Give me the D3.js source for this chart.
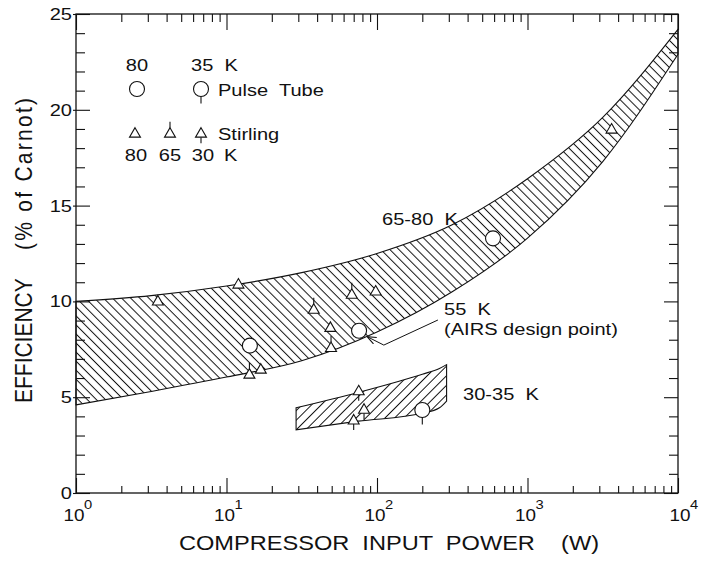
<!DOCTYPE html>
<html>
<head>
<meta charset="utf-8">
<script src="https://cdn.jsdelivr.net/npm/d3@7"></script>
<style>
  body { margin: 0; background: #fff; }
  text { font-family: "Liberation Sans", Arial, Helvetica, sans-serif; fill: #111; white-space: pre; }
</style>
</head>
<body>
<div id="chart"></div>
<script>
const width = 701,
      height = 562;
const SX = 1.18; // the scan is stretched sideways, so is the lettering

// 65-80 K band (upper hatched region)
const bandPower  = [1, 3.16, 10, 31.6, 100, 316, 1000, 3162, 10000];
const bandTop    = [10.0, 10.3, 10.8, 11.5, 12.5, 14.0, 16.4, 19.6, 24.2];
const bandBottom = [4.6, 5.3, 6.05, 6.9, 8.4, 10.5, 13.3, 17.3, 22.9];

// 30-35 K band (lower hatched region)
const lowPower  = [29, 75, 200, 260, 290];
const lowTop    = [4.45, 5.25, 6.2, 6.5, 6.7];
const lowBottom = [3.3, 3.75, 4.16, 4.45, 4.8];

// Stirling coolers (triangles)
const stirlingPower = [3.5, 12, 14.2, 16.9, 38, 49, 49.5, 68, 98, 3620, 75.6, 82, 70];
const stirlingEff   = [9.98, 10.86, 6.16, 6.42, 9.55, 8.6, 7.55, 10.33, 10.5, 18.95, 5.29, 4.33, 3.77];
const stirlingTemp  = [80, 80, 65, 80, 65, 80, 65, 65, 80, 80, 30, 30, 30];

// pulse tube coolers (circles)
const pulsePower = [14.3, 76, 590, 200];
const pulseEff   = [7.69, 8.47, 13.29, 4.33];
const pulseTemp  = [80, 55, 80, 35];

// tick labels
const xDecades = [1, 10, 100, 1000, 10000];
const xExponents = ["0", "1", "2", "3", "4"];
const yMajor = [0, 5, 10, 15, 20, 25];

// AIRS arrow (power, efficiency)
const arrowPts = [[254, 9.03], [111, 7.72], [87, 8.14]];

var svg = d3.select('#chart').append('svg')
  .attr('width', width)
  .attr('height', height);

svg.append('rect').attr('width', width).attr('height', height).attr('fill', '#fff');

const x = d3.scaleLog().domain([1, 1e4]).range([76, 678]);
const y = d3.scaleLinear().domain([0, 25]).range([493, 14]);

const xMinor = xDecades.slice(0, 4).flatMap(d => d3.range(2, 10).map(k => k * d));
const yMinor = d3.range(0, 26).filter(v => v % 5 !== 0);

function label(g, px, py, str, size, anchor) {
  return g.append('text')
    .attr('transform', `translate(${px},${py}) scale(${SX},1)`)
    .attr('font-size', size)
    .attr('text-anchor', anchor || 'start')
    .text(str);
}

// hatch patterns
var defs = svg.append('defs');
function hatch(id, gap, angle) {
  defs.append('pattern')
    .attr('id', id)
    .attr('patternUnits', 'userSpaceOnUse')
    .attr('width', gap).attr('height', gap)
    .attr('patternTransform', `rotate(${angle})`)
    .append('line')
      .attr('x1', gap / 2).attr('y1', 0)
      .attr('x2', gap / 2).attr('y2', gap)
      .attr('stroke', '#111').attr('stroke-width', 1);
}
hatch('hatchUp', 6.4, -45);
hatch('hatchLow', 6.8, 45);

defs.append('marker')
  .attr('id', 'arrowHead')
  .attr('viewBox', '0 0 10 10')
  .attr('refX', 9).attr('refY', 5)
  .attr('markerWidth', 9).attr('markerHeight', 9)
  .attr('markerUnits', 'userSpaceOnUse')
  .attr('orient', 'auto')
  .append('path').attr('d', 'M0,1 L10,5 L0,9').attr('fill', 'none').attr('stroke', '#111').attr('stroke-width', 1.2);

var g = svg.append('g');

// bands
const bandArea = d3.area()
  .curve(d3.curveMonotoneX)
  .x(d => x(d[0]))
  .y0(d => y(d[2]))
  .y1(d => y(d[1]));

g.append('path')
  .datum(bandPower.map((p, i) => [p, bandTop[i], bandBottom[i]]))
  .attr('d', bandArea)
  .attr('fill', 'url(#hatchUp)')
  .attr('stroke', '#111')
  .attr('stroke-width', 1.1);

g.append('path')
  .datum(lowPower.map((p, i) => [p, lowTop[i], lowBottom[i]]))
  .attr('d', bandArea)
  .attr('fill', 'url(#hatchLow)')
  .attr('stroke', '#111')
  .attr('stroke-width', 1.1);

// markers
const triSize = 52;
const triPath = d3.symbol(d3.symbolTriangle, triSize)();
const triSide = Math.sqrt(4 * triSize / Math.sqrt(3));
const triTop = -triSide * Math.sqrt(3) / 3, triBot = triSide * Math.sqrt(3) / 6;
const circR = 7.5, stem = 6;

function drawTriangle(sel, px, py, temp) {
  const t = sel.append('g').attr('transform', `translate(${px},${py})`);
  if (temp === 65) t.append('line').attr('x1', 0).attr('x2', 0).attr('y1', triTop).attr('y2', triTop - stem);
  if (temp === 30) t.append('line').attr('x1', 0).attr('x2', 0).attr('y1', triBot).attr('y2', triBot + stem);
  t.append('path').attr('d', triPath);
  t.selectAll('*').attr('stroke', '#111').attr('stroke-width', 1.1);
  t.select('path').attr('fill', '#fff');
}
function drawCircle(sel, px, py, temp) {
  const c = sel.append('g').attr('transform', `translate(${px},${py})`);
  if (temp === 35) c.append('line').attr('x1', 0).attr('x2', 0).attr('y1', circR).attr('y2', circR + stem + 1);
  c.append('circle').attr('r', circR);
  c.selectAll('*').attr('stroke', '#111').attr('stroke-width', 1.1);
  c.select('circle').attr('fill', '#fff');
}

var markers = g.append('g');
stirlingPower.forEach((p, i) => drawTriangle(markers, x(p), y(stirlingEff[i]), stirlingTemp[i]));
pulsePower.forEach((p, i) => drawCircle(markers, x(p), y(pulseEff[i]), pulseTemp[i]));

// AIRS arrow
g.append('path')
  .attr('d', d3.line()(arrowPts.map(d => [x(d[0]), y(d[1])])))
  .attr('fill', 'none')
  .attr('stroke', '#111')
  .attr('stroke-width', 1)
  .attr('marker-end', 'url(#arrowHead)');

// annotations
label(g, x(108), y(13.99), '65-80  K', 17);
label(g, x(279), y(9.29), '55  K', 17);
label(g, x(279), y(8.25), '(AIRS design point)', 17);
label(g, x(373), y(4.85), '30-35  K', 17);

// legend
var legend = svg.append('g');
label(legend, 137, 71, '80', 17, 'middle');
label(legend, 191, 71, '35  K', 17);
drawCircle(legend, 137, 89, 80);
drawCircle(legend, 201, 89, 35);
label(legend, 218, 96, 'Pulse  Tube', 17);
drawTriangle(legend, 135, 134, 80);
drawTriangle(legend, 170, 134, 65);
drawTriangle(legend, 201, 134, 30);
label(legend, 218, 140, 'Stirling', 17);
label(legend, 136, 161, '80', 17, 'middle');
label(legend, 170, 161, '65', 17, 'middle');
label(legend, 203, 161, '30', 17, 'middle');
label(legend, 224, 161, 'K', 17);

// axes: tick marks point inwards
var axes = svg.append('g').attr('stroke-width', 1.1);
function tickAxis(axis, tx, ty) {
  axes.append('g')
    .attr('transform', `translate(${tx},${ty})`)
    .call(axis.tickFormat(''))
    .call(a => a.select('.domain').remove())
    .call(a => a.selectAll('line').attr('stroke', '#111'));
}
tickAxis(d3.axisBottom(x).tickValues(xDecades).tickSize(-15), 0, y(0));
tickAxis(d3.axisBottom(x).tickValues(xMinor).tickSize(-7), 0, y(0));
tickAxis(d3.axisTop(x).tickValues(xDecades).tickSize(-16), 0, y(25));
tickAxis(d3.axisTop(x).tickValues(xMinor).tickSize(-8), 0, y(25));
tickAxis(d3.axisLeft(y).tickValues(yMajor).tickSize(-14), x(1), 0);
tickAxis(d3.axisLeft(y).tickValues(yMajor).tickSize(3), x(1), 0);
tickAxis(d3.axisLeft(y).tickValues(yMinor).tickSize(-9), x(1), 0);
tickAxis(d3.axisRight(y).tickValues(yMajor).tickSize(-14), x(1e4), 0);
tickAxis(d3.axisRight(y).tickValues(yMinor).tickSize(-9), x(1e4), 0);

axes.append('rect')
  .attr('x', x(1)).attr('y', y(25))
  .attr('width', x(1e4) - x(1)).attr('height', y(0) - y(25))
  .attr('fill', 'none').attr('stroke', '#111').attr('stroke-width', 1.3);

// tick labels
yMajor.forEach(v => label(axes, 72, y(v) + 6, String(v), 17, 'end'));
xDecades.forEach((d, i) => {
  const cx = x(d) - 2 + (i === 4 ? 4 : 0);
  label(axes, cx, 521, '10', 16, 'middle');
  label(axes, cx + 10, 509, xExponents[i], 12.5, 'start');
});

// axis titles
label(svg, 389, 550, 'COMPRESSOR  INPUT  POWER    (W)', 20, 'middle');

svg.append('text')
  .attr('transform', `translate(32,403) scale(${SX},1) rotate(-90)`)
  .attr('font-size', 21)
  .text('EFFICIENCY');
svg.append('text')
  .attr('transform', `translate(32,250) scale(${SX},1) rotate(-90)`)
  .attr('font-size', 21)
  .attr('textLength', 152)
  .attr('lengthAdjust', 'spacing')
  .text('(% of Carnot)');
</script>
</body>
</html>
